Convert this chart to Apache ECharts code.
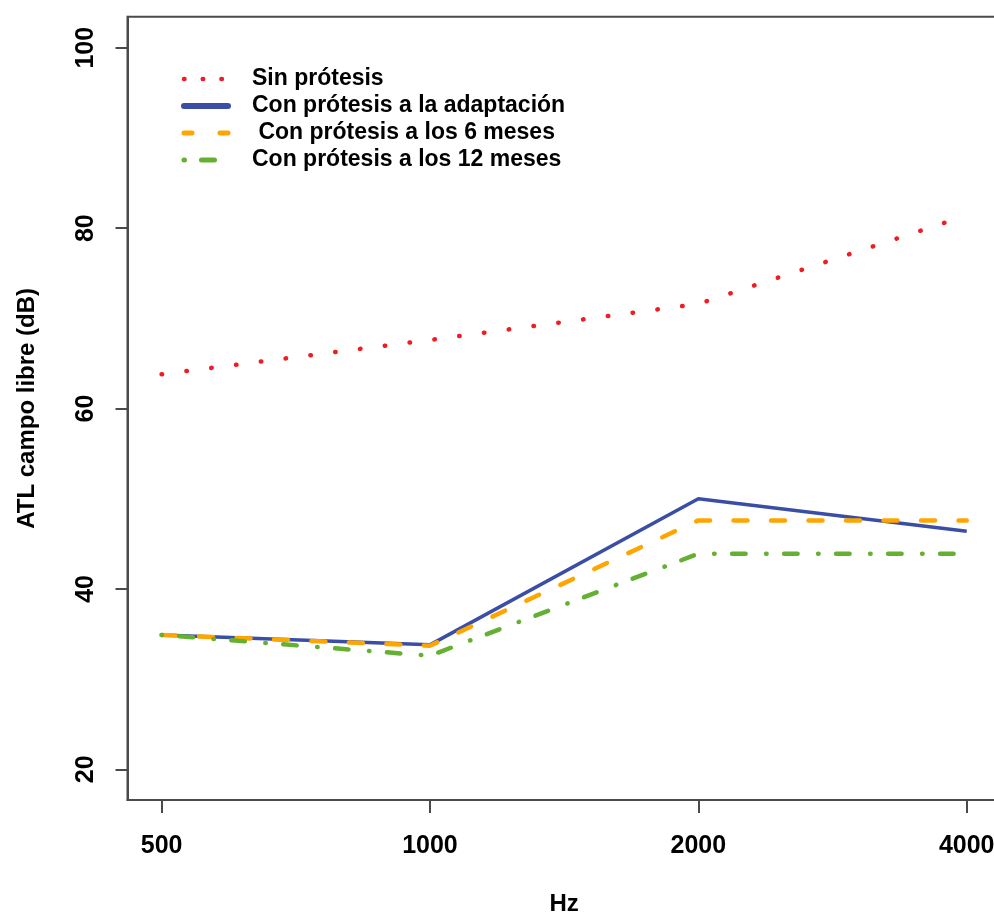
<!DOCTYPE html>
<html>
<head>
<meta charset="utf-8">
<script src="https://cdn.jsdelivr.net/npm/echarts@6/dist/echarts.min.js"></script>
<style>html,body{margin:0;padding:0;background:#fff}#c{width:994px;height:915px}</style>
</head>
<body>
<div id="c"></div>
<script>
var categories = ["500", "1000", "2000", "4000"];
var yTicks = [20, 40, 60, 80, 100];
var sinProtesis = [63.8, 67.6, 71.6, 81.4];
var adaptacion = [34.9, 33.8, 50.0, 46.4];
var meses6 = [34.9, 33.7, 47.6, 47.6];
var meses12 = [34.9, 32.6, 43.9, 43.9];
var names = ["Sin prótesis", "Con prótesis a la adaptación", " Con prótesis a los 6 meses", "Con prótesis a los 12 meses"];

function toPts(arr) { return arr.map(function (v, i) { return [i, v]; }); }

var font = '"Liberation Sans", Arial, sans-serif';
var chart = echarts.init(document.getElementById('c'), null, {renderer: 'canvas'});
chart.setOption({
  animation: false,
  backgroundColor: '#fff',
  grid: {left: 127.5, top: 16.7, width: 873.3, height: 783.3, containLabel: false, outerBoundsMode: 'none',
         show: true, borderColor: '#4a4a4a', borderWidth: 2, backgroundColor: 'transparent'},
  legend: {
    orient: 'vertical', left: 181, top: 65.5, padding: 0, itemWidth: 44, itemHeight: 14, itemGap: 0,
    itemStyle: {opacity: 0},
    textStyle: {fontFamily: font, fontSize: 23, fontWeight: 'bold', color: '#000', lineHeight: 27, padding: [0, 0, 0, 19]},
    data: [
      {name: names[0], lineStyle: {color: '#f01c24', width: 4.5, type: [0.5, 18.2], cap: 'round'}},
      {name: names[1], lineStyle: {color: '#3a4ea6', width: 6, cap: 'round'}},
      {name: names[2], lineStyle: {color: '#ffa500', width: 5, type: [8, 28], cap: 'round'}},
      {name: names[3], lineStyle: {color: '#65b032', width: 5, type: [0.5, 17, 13, 20], cap: 'round'}}
    ]
  },
  xAxis: {
    type: 'value', min: -0.127, max: 3.127,
    axisLine: {show: true, onZero: false, lineStyle: {color: '#4a4a4a', width: 2}},
    axisTick: {show: true, length: 13, customValues: [0, 1, 2, 3], lineStyle: {color: '#4a4a4a', width: 2}},
    axisLabel: {customValues: [0, 1, 2, 3], margin: 34, fontFamily: font, fontSize: 25, fontWeight: 'bold', color: '#000',
      formatter: function (v) { return categories[Math.round(v)]; }},
    splitLine: {show: false},
    name: 'Hz', nameLocation: 'middle', nameGap: 92, nameMoveOverlap: false,
    nameTextStyle: {fontFamily: font, fontSize: 24, fontWeight: 'bold', color: '#000'}
  },
  yAxis: {
    type: 'value', min: 16.6, max: 103.44,
    axisLine: {show: true, onZero: false, lineStyle: {color: '#4a4a4a', width: 2}},
    axisTick: {show: true, length: 12, customValues: yTicks, lineStyle: {color: '#4a4a4a', width: 2}},
    axisLabel: {customValues: yTicks, rotate: 90, margin: 29, fontFamily: font, fontSize: 25, fontWeight: 'bold', color: '#000'},
    splitLine: {show: false},
    name: 'ATL campo libre (dB)', nameLocation: 'middle', nameGap: 88, nameMoveOverlap: false,
    nameTextStyle: {fontFamily: font, fontSize: 24, fontWeight: 'bold', color: '#000'}
  },
  series: [
    {name: names[0], type: 'line', data: toPts(sinProtesis), symbol: 'none', color: '#f01c24',
     lineStyle: {color: '#f01c24', width: 4.5, type: [0.5, 24.5], cap: 'round'}},
    {name: names[1], type: 'line', data: toPts(adaptacion), symbol: 'none', color: '#3a4ea6',
     lineStyle: {color: '#3a4ea6', width: 3.5}},
    {name: names[2], type: 'line', data: toPts(meses6), symbol: 'none', color: '#ffa500',
     lineStyle: {color: '#ffa500', width: 4.5, type: [14, 23.5], cap: 'round'}},
    {name: names[3], type: 'line', data: toPts(meses12), symbol: 'none', color: '#65b032',
     lineStyle: {color: '#65b032', width: 4.5, type: [0.5, 17.5, 13.5, 20.5], cap: 'round'}}
  ]
});
</script>
</body>
</html>
